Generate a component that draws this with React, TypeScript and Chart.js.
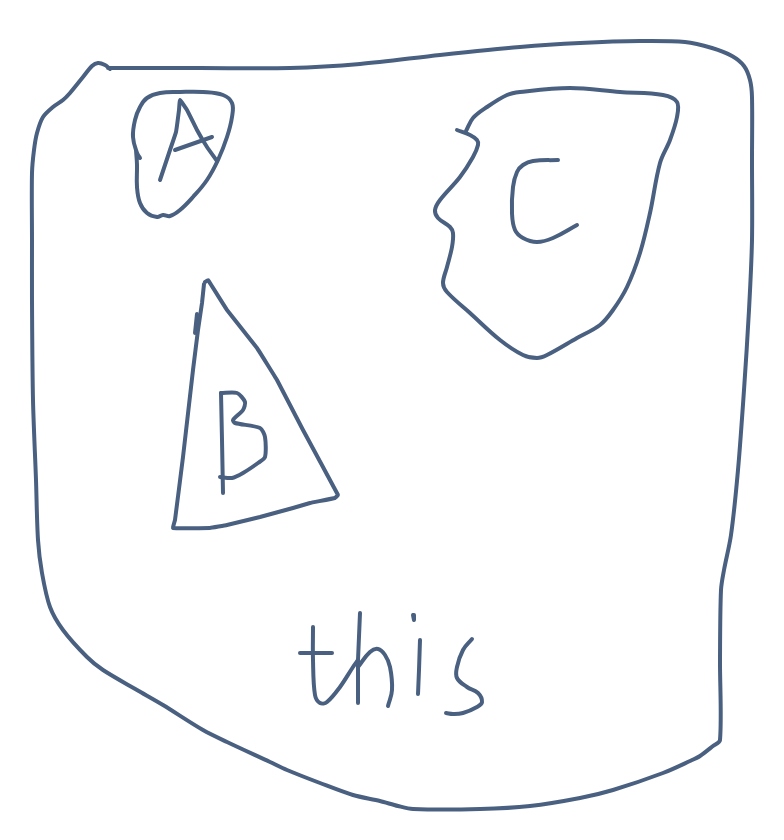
import React, { useEffect, useRef } from "react";
import { Chart, registerables } from "chart.js";

Chart.register(...registerables);

type Pt = [number, number];

const INK = "#4a6080";

// Outer frame stroke
const outline: Pt[] = [
  [108, 68], [200, 68], [290, 68], [360, 64], [440, 55], [520, 47], [580, 43], [640, 41], [685, 42],
  [712, 48], [732, 56], [744, 66], [750, 80], [752, 97], [752, 160], [752, 240], [749, 310], [744, 390],
  [738, 470], [731, 535], [724, 570], [721, 590], [720, 660], [720, 740], [713, 746], [700, 756],
  [690, 761], [663, 773], [613, 790], [580, 798], [530, 806], [480, 809], [413, 809], [398, 806],
  [380, 801], [353, 795], [320, 783], [287, 770], [270, 762], [227, 742], [203, 730], [163, 705],
  [137, 690], [103, 670], [87, 657], [63, 630], [50, 607], [42, 573], [38, 540], [36, 480], [33, 400],
  [32, 300], [32, 240], [32, 173], [34, 150], [37, 133], [43, 117], [53, 107], [63, 100], [70, 93],
  [83, 77], [92, 66], [98, 63], [105, 65], [110, 69],
];

// Region A
const shapeA: Pt[] = [
  [140, 158], [137, 153], [133, 137], [135, 120], [140, 107], [147, 98], [160, 93], [180, 92], [203, 92],
  [223, 95], [232, 103], [232, 117], [227, 137], [218, 160], [207, 180], [193, 197], [180, 210],
  [170, 216], [163, 215], [157, 217], [147, 213], [140, 203], [137, 187], [137, 165], [136, 150],
];
const letterA: Pt[] = [[160, 180], [170, 150], [176, 132], [179, 110], [180, 100], [187, 110], [197, 130], [207, 147], [217, 161]];
const letterABar: Pt[] = [[175, 150], [212, 137]];

// Region C
const shapeC: Pt[] = [
  [457, 130], [470, 135], [477, 140], [478, 145], [473, 157], [460, 177], [440, 200], [435, 210],
  [438, 218], [450, 227], [453, 233], [452, 247], [447, 267], [443, 283], [447, 292], [470, 313],
  [500, 340], [523, 355], [537, 358], [547, 355], [577, 338], [600, 325], [613, 310], [627, 287],
  [640, 253], [650, 213], [660, 163], [670, 140], [677, 117], [677, 102], [663, 95], [620, 92],
  [570, 88], [520, 92], [507, 95], [487, 107], [473, 118], [466, 131],
];
const letterC: Pt[] = [
  [558, 160], [533, 161], [523, 165], [517, 172], [513, 187], [512, 213], [515, 230], [523, 238],
  [537, 242], [553, 238], [577, 225],
];

// Region B
const shapeB: Pt[] = [
  [205, 282], [208, 280], [227, 310], [257, 348], [277, 380], [303, 430], [338, 495], [335, 498],
  [310, 503], [293, 508], [260, 517], [227, 525], [210, 528], [173, 528], [175, 520], [183, 457],
  [193, 370], [198, 330], [202, 303], [204, 284],
];
const tickB: Pt[] = [[197, 314], [195, 333]];
const letterBStem: Pt[] = [[221, 393], [222, 440], [223, 493]];
const letterBBowls: Pt[] = [
  [221, 393], [237, 393], [245, 402], [243, 410], [233, 420], [235, 423], [260, 428], [265, 437],
  [265, 457], [258, 463], [243, 473], [232, 478], [220, 477],
];

// Word "this"
const letterT: Pt[] = [[313, 627], [313, 660], [315, 695], [320, 703], [327, 702], [340, 687], [353, 667], [358, 660]];
const letterTBar: Pt[] = [[300, 653], [332, 653]];
const letterHStem: Pt[] = [[360, 613], [358, 660], [358, 703]];
const letterHArch: Pt[] = [[358, 667], [370, 652], [378, 649], [385, 655], [390, 667], [392, 690], [388, 706]];
const letterIDot: Pt[] = [[413, 615], [414, 620]];
const letterIStem: Pt[] = [[420, 640], [419, 670], [418, 694]];
const letterS: Pt[] = [
  [472, 639], [463, 650], [457, 667], [457, 678], [467, 687], [478, 693], [482, 702], [477, 707],
  [463, 713], [453, 714], [446, 713],
];

const strokes: { pts: Pt[]; tension: number }[] = [
  { pts: outline, tension: 0.3 },
  { pts: shapeA, tension: 0.4 },
  { pts: letterA, tension: 0.1 },
  { pts: letterABar, tension: 0 },
  { pts: shapeC, tension: 0.35 },
  { pts: letterC, tension: 0.4 },
  { pts: shapeB, tension: 0.05 },
  { pts: tickB, tension: 0 },
  { pts: letterBStem, tension: 0 },
  { pts: letterBBowls, tension: 0.25 },
  { pts: letterT, tension: 0.35 },
  { pts: letterTBar, tension: 0 },
  { pts: letterHStem, tension: 0 },
  { pts: letterHArch, tension: 0.4 },
  { pts: letterIDot, tension: 0 },
  { pts: letterIStem, tension: 0 },
  { pts: letterS, tension: 0.4 },
];

export default function App() {
  const ref = useRef<HTMLCanvasElement | null>(null);
  useEffect(() => {
    document.body.style.margin = "0";
    if (!ref.current) return;
    const chart = new Chart(ref.current, {
      type: "scatter",
      data: {
        datasets: strokes.map((s) => ({
          data: s.pts.map(([x, y]) => ({ x, y })),
          showLine: true,
          borderColor: INK,
          backgroundColor: INK,
          borderWidth: 4,
          pointRadius: 0,
          pointHoverRadius: 0,
          tension: s.tension,
          borderCapStyle: "round" as const,
          borderJoinStyle: "round" as const,
          fill: false,
          clip: false as any,
        })),
      },
      options: {
        animation: false,
        responsive: true,
        maintainAspectRatio: false,
        layout: { padding: 0 },
        events: [],
        plugins: { legend: { display: false }, tooltip: { enabled: false } },
        scales: {
          x: { type: "linear", min: 0, max: 784, display: false },
          y: { type: "linear", min: 0, max: 840, reverse: true, display: false },
        },
      },
    });
    return () => chart.destroy();
  }, []);
  return (
    <div style={{ position: "relative", width: 784, height: 840, background: "#fff" }}>
      <canvas ref={ref} />
    </div>
  );
}
